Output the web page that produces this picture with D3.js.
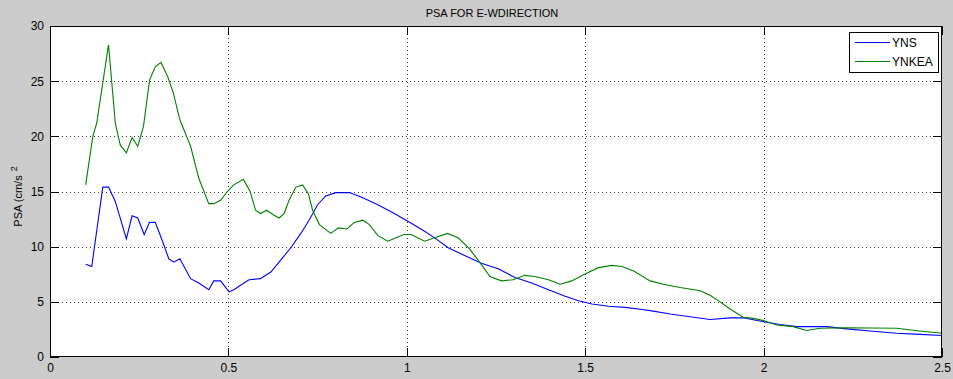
<!DOCTYPE html>
<html>
<head>
<meta charset="utf-8">
<script src="https://cdn.jsdelivr.net/npm/d3@7"></script>
<style>
  html, body { margin: 0; padding: 0; background: #cccccc; }
  svg { display: block; }
  text { font-family: "Liberation Sans", Arial, Helvetica, sans-serif; fill: #000; }
</style>
</head>
<body>
<svg id="chart" width="953" height="379"></svg>
<script>
// ---- data ----
const titleText = "PSA FOR E-WDIRECTION";
const yLabelText = "PSA (cm/s";
const yLabelSup = "2";
const seriesNames = ["YNS", "YNKEA"];
const seriesColors = ["#0000ff", "#008000"];

const xTicks = [0, 0.5, 1, 1.5, 2, 2.5];
const yTicks = [0, 5, 10, 15, 20, 25, 30];

const ynsPeriod = [0.100, 0.117, 0.148, 0.164, 0.183, 0.214, 0.230, 0.246, 0.264, 0.279, 0.295, 0.314, 0.333, 0.347, 0.364, 0.394, 0.417, 0.445, 0.459, 0.478, 0.502, 0.515, 0.534, 0.558, 0.590, 0.619, 0.647, 0.675, 0.703, 0.726, 0.750, 0.773, 0.801, 0.839, 0.872, 0.919, 0.965, 1.003, 1.050, 1.078, 1.116, 1.162, 1.209, 1.256, 1.303, 1.350, 1.397, 1.444, 1.481, 1.519, 1.566, 1.612, 1.659, 1.682, 1.738, 1.794, 1.850, 1.906, 1.943, 2.000, 2.046, 2.093, 2.177, 2.233, 2.298, 2.373, 2.438, 2.500];
const ynsPSA    = [8.4, 8.2, 15.4, 15.4, 14.1, 10.7, 12.8, 12.6, 11.1, 12.2, 12.2, 10.6, 8.9, 8.6, 8.9, 7.1, 6.7, 6.1, 6.9, 6.9, 5.9, 6.1, 6.5, 7.0, 7.1, 7.7, 8.8, 9.9, 11.2, 12.4, 13.8, 14.6, 14.9, 14.9, 14.5, 13.8, 13.0, 12.3, 11.4, 10.8, 9.9, 9.2, 8.5, 8.0, 7.2, 6.7, 6.1, 5.5, 5.1, 4.8, 4.6, 4.5, 4.3, 4.2, 3.9, 3.65, 3.4, 3.55, 3.55, 3.2, 2.95, 2.75, 2.75, 2.55, 2.35, 2.15, 2.05, 1.95];

const ynkeaPeriod = [0.100, 0.120, 0.131, 0.164, 0.183, 0.197, 0.214, 0.230, 0.246, 0.262, 0.279, 0.295, 0.311, 0.330, 0.345, 0.364, 0.394, 0.417, 0.445, 0.459, 0.478, 0.497, 0.515, 0.542, 0.561, 0.576, 0.590, 0.607, 0.626, 0.642, 0.656, 0.670, 0.689, 0.708, 0.724, 0.736, 0.755, 0.787, 0.808, 0.832, 0.853, 0.877, 0.895, 0.919, 0.947, 0.970, 0.992, 1.012, 1.050, 1.078, 1.114, 1.144, 1.176, 1.204, 1.233, 1.265, 1.298, 1.331, 1.359, 1.397, 1.430, 1.462, 1.504, 1.537, 1.575, 1.603, 1.636, 1.682, 1.719, 1.766, 1.822, 1.850, 1.878, 1.906, 1.943, 1.971, 2.000, 2.037, 2.083, 2.121, 2.158, 2.233, 2.373, 2.438, 2.500];
const ynkeaPSA    = [15.6, 20.0, 21.2, 28.3, 21.2, 19.2, 18.5, 19.9, 19.1, 20.9, 25.1, 26.3, 26.7, 25.4, 24.0, 21.5, 19.1, 16.2, 13.9, 13.9, 14.2, 15.0, 15.6, 16.1, 15.0, 13.3, 13.0, 13.3, 12.9, 12.6, 13.0, 14.2, 15.4, 15.6, 14.8, 13.3, 12.0, 11.2, 11.7, 11.6, 12.2, 12.4, 12.0, 11.0, 10.5, 10.8, 11.1, 11.1, 10.5, 10.8, 11.2, 10.8, 9.8, 8.6, 7.3, 6.9, 7.0, 7.4, 7.3, 7.0, 6.6, 6.9, 7.6, 8.1, 8.3, 8.2, 7.8, 6.9, 6.6, 6.3, 6.0, 5.6, 5.0, 4.35, 3.6, 3.5, 3.3, 2.9, 2.75, 2.4, 2.6, 2.65, 2.6, 2.35, 2.15];

// ---- layout ----
const W = 953, H = 379;
const L = 50, R = 942, T = 26, B = 357;

const svg = d3.select("#chart");
svg.append("rect").attr("width", W).attr("height", H).attr("fill", "#cccccc");

const x = d3.scaleLinear().domain([0, 2.5]).range([L, R]);
const y = d3.scaleLinear().domain([0, 30]).range([B, T]);

// plot area
svg.append("rect")
  .attr("x", L).attr("y", T).attr("width", R - L).attr("height", B - T)
  .attr("fill", "#ffffff");

// grid
const grid = svg.append("g").attr("stroke", "#333").attr("stroke-width", 1)
  .attr("stroke-dasharray", "1,3").attr("shape-rendering", "crispEdges");
grid.selectAll("line.gx").data(xTicks.filter(d => d > 0 && d < 2.5)).join("line")
  .attr("class", "gx")
  .attr("x1", d => Math.round(x(d)) + 0.5).attr("x2", d => Math.round(x(d)) + 0.5)
  .attr("y1", T).attr("y2", B);
grid.selectAll("line.gy").data(yTicks.filter(d => d > 0 && d < 30)).join("line")
  .attr("class", "gy")
  .attr("y1", d => Math.round(y(d)) + 0.5).attr("y2", d => Math.round(y(d)) + 0.5)
  .attr("x1", L).attr("x2", R);

// series
const series = [
  { name: seriesNames[0], color: seriesColors[0], xs: ynsPeriod, ys: ynsPSA },
  { name: seriesNames[1], color: seriesColors[1], xs: ynkeaPeriod, ys: ynkeaPSA }
];
const line = d3.line().x(d => x(d[0])).y(d => y(d[1]));
series.forEach(s => {
  svg.append("path")
    .datum(s.xs.map((v, i) => [v, s.ys[i]]))
    .attr("fill", "none")
    .attr("stroke", s.color)
    .attr("stroke-width", 1.1)
    .attr("d", line);
});

// axes
function styleAxis(g) {
  g.select(".domain").remove();
  g.selectAll(".tick line").attr("stroke", "#000").attr("shape-rendering", "crispEdges");
  g.selectAll(".tick text").attr("font-size", 12).attr("fill", "#000")
    .attr("font-family", "'Liberation Sans', Arial, sans-serif");
}
svg.append("g").attr("transform", `translate(0,${B})`)
  .call(d3.axisBottom(x).tickValues(xTicks).tickFormat(d3.format("~g")).tickSize(-9).tickPadding(6))
  .call(styleAxis);
svg.append("g").attr("transform", `translate(${L},0)`)
  .call(d3.axisLeft(y).tickValues(yTicks).tickFormat(d3.format("~g")).tickSize(-9).tickPadding(6))
  .call(styleAxis);
svg.append("g").attr("transform", `translate(0,${T})`)
  .call(d3.axisTop(x).tickValues(xTicks).tickFormat("").tickSize(-9))
  .call(styleAxis);
svg.append("g").attr("transform", `translate(${R},0)`)
  .call(d3.axisRight(y).tickValues(yTicks).tickFormat("").tickSize(-9))
  .call(styleAxis);

// frame
svg.append("rect")
  .attr("x", L + 0.5).attr("y", T + 0.5).attr("width", R - L - 1).attr("height", B - T - 1)
  .attr("fill", "none").attr("stroke", "#000").attr("stroke-width", 1)
  .attr("shape-rendering", "crispEdges");

// title
svg.append("text")
  .attr("x", (L + R) / 2 - 4).attr("y", 17)
  .attr("text-anchor", "middle").attr("font-size", 11)
  .text(titleText);

// y label
const yl = svg.append("text")
  .attr("transform", `translate(22,${(T + B) / 2 + 5}) rotate(-90)`)
  .attr("text-anchor", "middle").attr("font-size", 11);
yl.append("tspan").text(yLabelText);
yl.append("tspan").attr("dx", 4).attr("dy", -5).attr("font-size", 9).text(yLabelSup);

// legend
const lg = svg.append("g");
lg.append("rect")
  .attr("x", 849.5).attr("y", 32.5).attr("width", 89).attr("height", 40)
  .attr("fill", "#fff").attr("stroke", "#000").attr("shape-rendering", "crispEdges");
series.forEach((s, i) => {
  const cy = 42.5 + i * 19;
  lg.append("line").attr("x1", 855).attr("x2", 890).attr("y1", cy).attr("y2", cy)
    .attr("stroke", s.color).attr("stroke-width", 1.1);
  lg.append("text").attr("x", 892).attr("y", cy + 4.5).attr("font-size", 12).text(s.name);
});
</script>
</body>
</html>
